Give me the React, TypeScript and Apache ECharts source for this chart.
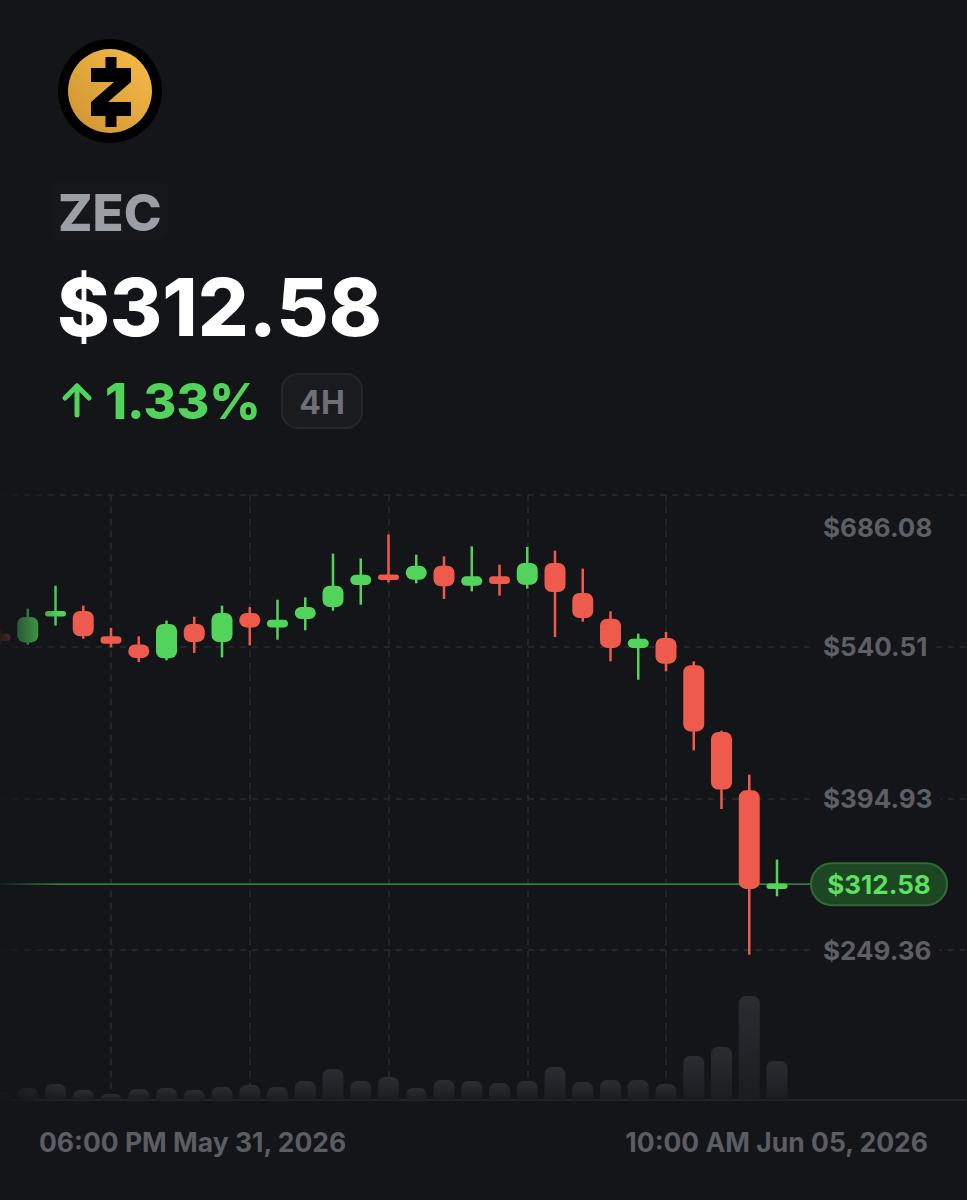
import React, { useEffect, useRef } from "react";
import * as echarts from "echarts";

// ---------- data ----------
const times = [
  "05-31 18:00", "05-31 22:00",
  "06-01 02:00", "06-01 06:00", "06-01 10:00", "06-01 14:00", "06-01 18:00", "06-01 22:00",
  "06-02 02:00", "06-02 06:00", "06-02 10:00", "06-02 14:00", "06-02 18:00", "06-02 22:00",
  "06-03 02:00", "06-03 06:00", "06-03 10:00", "06-03 14:00", "06-03 18:00", "06-03 22:00",
  "06-04 02:00", "06-04 06:00", "06-04 10:00", "06-04 14:00", "06-04 18:00", "06-04 22:00",
  "06-05 02:00", "06-05 06:00", "06-05 10:00",
];
const opens = [553.0, 544.6, 569.6, 574.8, 550.4, 542.7, 529.3, 562.3, 545.0, 572.9, 559.0, 567.1, 578.6, 599.7, 609.6, 604.8, 618.2, 599.0, 608.0, 600.0, 620.8, 592.0, 567.4, 539.3, 548.9, 522.6, 458.6, 402.6, 308.5];
const closes = [546.0, 569.0, 574.4, 550.4, 543.4, 529.7, 562.3, 545.0, 572.9, 559.0, 566.4, 578.6, 599.0, 609.6, 604.8, 618.2, 598.4, 608.0, 600.7, 620.8, 593.0, 568.0, 539.3, 548.2, 524.2, 459.2, 403.3, 308.0, 312.58];
const lows = [543.0, 542.4, 560.7, 548.2, 539.8, 525.8, 527.4, 534.5, 530.2, 541.8, 547.2, 556.2, 575.0, 580.8, 602.2, 601.3, 586.3, 593.6, 589.5, 596.2, 549.8, 564.5, 526.4, 508.8, 516.8, 441.0, 384.7, 244.9, 300.9];
const highs = [556.0, 577.0, 599.0, 579.9, 558.5, 550.4, 565.5, 569.3, 579.9, 578.6, 585.6, 587.8, 629.8, 625.2, 648.3, 628.8, 627.2, 636.8, 619.2, 636.2, 632.6, 615.4, 574.4, 553.0, 554.6, 526.4, 459.9, 417.7, 336.1];
const volumes = [8, 12, 16, 10, 6, 11, 12, 10, 13, 15, 13, 19, 31, 19, 23, 12, 20, 19, 17, 19, 33, 18, 20, 20, 16, 44, 53, 104, 39];

const yTickMin = 249.36;
const yTickMax = 686.08;
const yTickStep = 145.574;
const xTickLabels = ["06:00 PM May 31, 2026", "10:00 AM Jun 05, 2026"];
const symbol = "ZEC";
const changePct = "1.33%";
const timeframe = "4H";

// ---------- style ----------
const BG = "#141519";
const GREEN = "#52d35b";
const RED = "#ee5a4b";
const GRID = "#2a2c31";
const LABEL = "#5c5f64";
const FONT = "Inter";

const fmt = (v: number) => "$" + v.toFixed(2);

const txt = (size: number, weight: number, fill: string, extra: any = {}) => ({
  fill,
  fontSize: size,
  fontWeight: weight,
  fontFamily: FONT,
  verticalAlign: "middle",
  ...extra,
});

export default function App() {
  const ref = useRef<HTMLDivElement>(null);

  useEffect(() => {
    if (!ref.current) return;
    const chart = echarts.init(ref.current, null, { renderer: "svg" });

    const gridTop = 495;
    const gridPriceH = 455;
    const gridFullH = 605;
    const pxPerUnit = gridPriceH / (yTickMax - yTickMin);
    const fullMin = yTickMax - gridFullH / pxPerUnit;

    const candleData = times.map((t, i) => [i, opens[i], closes[i], lows[i], highs[i]]);
    const last = closes[closes.length - 1];

    const zc = [111, 92];
    const zRel = [
      [-20, -24], [20, -24], [20, -10], [-3, 10], [20, 10], [20, 24],
      [-20, 24], [-20, 10], [3, -10], [-20, -10],
    ];
    const zPts = zRel.map(([x, y]) => [zc[0] + x, zc[1] + y]);

    const baseGraphics: any[] = [
      { id: "logoOuter", type: "circle", shape: { cx: 110, cy: 91, r: 52 }, style: { fill: "#000" } },
      {
        id: "logoInner", type: "circle", shape: { cx: 110, cy: 91, r: 42 },
        style: {
          fill: new echarts.graphic.LinearGradient(0, 1, 1, 0, [
            { offset: 0, color: "#cf9132" },
            { offset: 1, color: "#f6bd48" },
          ]),
        },
      },
      { id: "logoZ", type: "polygon", shape: { points: zPts }, style: { fill: "#000" } },
      { id: "logoT1", type: "rect", shape: { x: zc[0] - 5.5, y: zc[1] - 35, width: 11, height: 12 }, style: { fill: "#000" } },
      { id: "logoT2", type: "rect", shape: { x: zc[0] - 5.5, y: zc[1] + 23, width: 11, height: 12 }, style: { fill: "#000" } },
      { id: "symBg", type: "rect", shape: { x: 52, y: 182, width: 116, height: 58, r: 8 }, style: { fill: "#16171b" } },
      { id: "sym", type: "text", x: 58, y: 212, style: { text: symbol, ...txt(51, 800, "#9a9ea5") } },
      { id: "price", type: "text", x: 57, y: 306, style: { text: fmt(last), ...txt(80, 800, "#ffffff") } },
      {
        id: "arrowV", type: "line", shape: { x1: 77, y1: 415, x2: 77, y2: 386 },
        style: { stroke: GREEN, lineWidth: 5, lineCap: "round" },
      },
      {
        id: "arrowH", type: "polyline", shape: { points: [[65, 398], [77, 386], [89, 398]] },
        style: { stroke: GREEN, lineWidth: 5, lineCap: "round", lineJoin: "round", fill: "none" },
      },
      { id: "pct", type: "text", x: 105, y: 401, style: { text: changePct, ...txt(50, 800, GREEN) } },
      {
        id: "tfBox", type: "rect", shape: { x: 282, y: 374, width: 80, height: 54, r: 16 },
        style: { fill: "#1a1b1f", stroke: "#26272c", lineWidth: 2 },
      },
      { id: "tf", type: "text", x: 322, y: 402, style: { text: timeframe, ...txt(32, 700, "#6e7075", { align: "center" }) } },
      {
        id: "volBase", type: "line", shape: { x1: 0, y1: 1100, x2: 967, y2: 1100 },
        style: { stroke: "#222428", lineWidth: 2 }, z: 1,
      },
      { id: "xl0", type: "text", x: 39, y: 1142, style: { text: xTickLabels[0], ...txt(26.5, 700, "#5a5d62") } },
      { id: "xl1", type: "text", x: 928, y: 1142, style: { text: xTickLabels[1], ...txt(26.5, 700, "#5a5d62", { align: "right" }) } },
      {
        id: "fade", type: "rect", z: 50, shape: { x: 0, y: 480, width: 60, height: 622 },
        style: {
          fill: new echarts.graphic.LinearGradient(0, 0, 1, 0, [
            { offset: 0, color: "rgba(20,21,25,0.9)" },
            { offset: 1, color: "rgba(20,21,25,0)" },
          ]),
        },
      },
    ];

    const option: any = {
      animation: false,
      backgroundColor: BG,
      grid: [
        { left: 0, right: 0, top: gridTop, height: gridPriceH },
        { left: 0, width: 777, top: gridTop, height: gridFullH },
        { left: 0, width: 777, top: 990, height: 110 },
      ],
      xAxis: [
        { type: "value", gridIndex: 0, min: 0, max: 1, show: false },
        {
          type: "category", gridIndex: 1, data: times, boundaryGap: false,
          axisLine: { show: false }, axisTick: { show: false }, axisLabel: { show: false },
          splitLine: {
            show: true,
            interval: (idx: number) => idx % 5 === 4,
            lineStyle: { color: GRID, type: [6, 6], width: 1.5 },
          },
        },
        {
          type: "category", gridIndex: 2, data: times, boundaryGap: false,
          axisLine: { show: false }, axisTick: { show: false }, axisLabel: { show: false },
          splitLine: { show: false },
        },
      ],
      yAxis: [
        {
          type: "value", gridIndex: 0, position: "right",
          min: yTickMin, max: yTickMax, interval: yTickStep,
          axisLine: { show: false }, axisTick: { show: false },
          splitLine: { show: true, lineStyle: { color: GRID, type: [6, 6], width: 1.5 } },
          axisLabel: {
            inside: true, margin: 152, align: "left", verticalAlign: "middle",
            formatter: (v: number) => (v >= yTickMax - 0.01 ? `{t|${fmt(v)}}` : `{n|${fmt(v)}}`),
            rich: {
              n: {
                color: LABEL, fontFamily: FONT, fontWeight: 700, fontSize: 26,
                backgroundColor: BG, padding: [2, 8, 2, 8],
              },
              t: {
                color: LABEL, fontFamily: FONT, fontWeight: 700, fontSize: 26,
                padding: [64, 8, 0, 8],
              },
            },
          },
        },
        { type: "value", gridIndex: 1, min: fullMin, max: yTickMax, show: false, splitLine: { show: false } },
        { type: "value", gridIndex: 2, min: 0, max: 110, show: false, splitLine: { show: false } },
      ],
      series: [
        { type: "line", xAxisIndex: 0, yAxisIndex: 0, data: [], silent: true },
        {
          type: "custom", xAxisIndex: 1, yAxisIndex: 1, clip: false, z: 5,
          data: candleData,
          encode: { x: 0, y: [1, 2, 3, 4] },
          renderItem: (params: any, api: any) => {
            const idx = api.value(0);
            const o = api.value(1);
            const c = api.value(2);
            const l = api.value(3);
            const h = api.value(4);
            const pO = api.coord([idx, o]);
            const pC = api.coord([idx, c]);
            const pL = api.coord([idx, l]);
            const pH = api.coord([idx, h]);
            const color = c >= o ? GREEN : RED;
            const w = 21;
            const diff = Math.abs(pO[1] - pC[1]);
            const bh = Math.max(diff, 5.5);
            const top = Math.min(pO[1], pC[1]) - (bh - diff) / 2;
            return {
              type: "group",
              children: [
                {
                  type: "line",
                  shape: { x1: pH[0], y1: pH[1], x2: pL[0], y2: pL[1] },
                  style: { stroke: color, lineWidth: 2.5 },
                },
                {
                  type: "rect",
                  shape: { x: pO[0] - w / 2, y: top, width: w, height: bh, r: Math.min(7, bh / 2) },
                  style: { fill: color },
                },
              ],
            };
          },
        },
        {
          type: "bar", xAxisIndex: 2, yAxisIndex: 2, data: volumes, barWidth: 21, z: 3,
          itemStyle: {
            borderRadius: [7, 7, 0, 0],
            color: new echarts.graphic.LinearGradient(0, 0, 0, 1, [
              { offset: 0, color: "#2a2d32" },
              { offset: 1, color: "#1a1c20" },
            ]),
          },
        },
      ],
      graphic: baseGraphics,
    };

    chart.setOption(option);

    const py = chart.convertToPixel({ yAxisIndex: 0 }, last) as number;
    chart.setOption({
      graphic: [
        ...baseGraphics.map((g) => ({ id: g.id })),
        {
          id: "lastLine", type: "line", z: 1,
          shape: { x1: 0, y1: py, x2: 812, y2: py },
          style: { stroke: "#357c3a", lineWidth: 1.6 },
        },
        {
          id: "pill", type: "rect", z: 60,
          shape: { x: 811, y: py - 21, width: 136, height: 42, r: 21 },
          style: { fill: "#1d4623", stroke: "#2f6a35", lineWidth: 2 },
        },
        {
          id: "pillText", type: "text", z: 61, x: 879, y: py,
          style: { text: fmt(last), ...txt(26, 700, "#5fe060", { align: "center" }) },
        },
      ],
    });

    return () => chart.dispose();
  }, []);

  return (
    <div
      ref={ref}
      style={{ position: "absolute", left: 0, top: 0, width: 967, height: 1200, background: BG }}
    />
  );
}
